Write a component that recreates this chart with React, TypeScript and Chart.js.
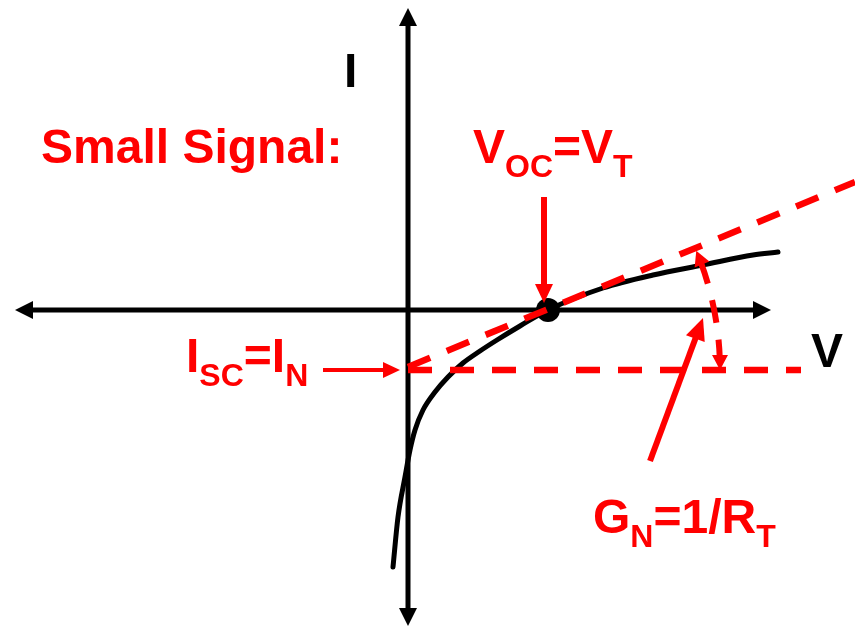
import React, { useEffect, useRef } from 'react';
import { Chart, registerables } from 'chart.js';

Chart.register(...registerables);

// ---- data (units: V horizontal, I vertical) ----
const X_RANGE = [-4.08, 4.47];
const Y_RANGE = [-3.17, 3.1];

// I–V curve of the device
const curveV = [-0.15, -0.1, -0.03, 0.02, 0.07, 0.15, 0.27, 0.4, 0.55, 0.72, 0.89, 1.12, 1.4, 1.95, 2.45, 2.95, 3.45, 3.7];
const curveI = [-2.57, -2.07, -1.67, -1.4, -1.2, -1.0, -0.82, -0.67, -0.53, -0.41, -0.3, -0.16, 0, 0.22, 0.35, 0.45, 0.55, 0.58];

// operating point V_OC
const opV = [1.4];
const opI = [0];

// small-signal tangent line and I_SC level
const tangentV = [0, 4.47];
const tangentI = [-0.57, 1.28];
const iscV = [0, 3.93];
const iscI = [-0.6, -0.6];

// axes: [v1, i1, v2, i2]
const axisH = [-3.93, 0, 3.63, 0];
const axisV = [0, -3.16, 0, 3.02];

// annotation arrows: [fromV, fromI, toV, toI]
const vocArrow = [1.36, 1.13, 1.36, 0.07];
const iscArrow = [-0.85, -0.6, -0.08, -0.6];
const gnArrow = [2.42, -1.51, 2.95, -0.08];

// slope arc: center (V, I), radius
const arcCenter = [0, -0.6];
const arcRadius = [3.12];
const arcSlope = [0.414];

// labels: [V, I] anchor (left, baseline)
const labelSmall = { text: [['Small Signal:', false]], at: [-3.67, 1.47] };
const labelVoc = { text: [['V', false], ['OC', true], ['=V', false], ['T', true]], at: [0.65, 1.47] };
const labelIsc = { text: [['I', false], ['SC', true], ['=I', false], ['N', true]], at: [-2.22, -0.62] };
const labelGn = { text: [['G', false], ['N', true], ['=1/R', false], ['T', true]], at: [1.85, -2.23] };
const labelI = { text: [['I', false]], at: [-0.64, 2.23] };
const labelV = { text: [['V', false]], at: [4.03, -0.57] };

const RED = '#ff0000';
const BLACK = '#000000';
const FONT_FAMILY = '"Liberation Sans", Arial, Helvetica, sans-serif';

const pts = (xs: number[], ys: number[]) => xs.map((x, i) => ({ x, y: ys[i] }));

function drawArrow(
  ctx: CanvasRenderingContext2D,
  x1: number, y1: number, x2: number, y2: number,
  width: number, headLen: number, headHalf: number, color: string, both = false
) {
  const dx = x2 - x1, dy = y2 - y1;
  const len = Math.hypot(dx, dy);
  const ux = dx / len, uy = dy / len;
  const sx = both ? x1 + ux * headLen * 0.8 : x1;
  const sy = both ? y1 + uy * headLen * 0.8 : y1;
  const ex = x2 - ux * headLen * 0.8, ey = y2 - uy * headLen * 0.8;
  ctx.save();
  ctx.strokeStyle = color;
  ctx.fillStyle = color;
  ctx.lineWidth = width;
  ctx.lineCap = 'butt';
  ctx.setLineDash([]);
  ctx.beginPath();
  ctx.moveTo(sx, sy);
  ctx.lineTo(ex, ey);
  ctx.stroke();
  const head = (tx: number, ty: number, vx: number, vy: number) => {
    const bx = tx - vx * headLen, by = ty - vy * headLen;
    ctx.beginPath();
    ctx.moveTo(tx, ty);
    ctx.lineTo(bx - vy * headHalf, by + vx * headHalf);
    ctx.lineTo(bx + vy * headHalf, by - vx * headHalf);
    ctx.closePath();
    ctx.fill();
  };
  head(x2, y2, ux, uy);
  if (both) head(x1, y1, -ux, -uy);
  ctx.restore();
}

function drawRich(ctx: CanvasRenderingContext2D, x: number, y: number, segs: any[], color: string) {
  ctx.save();
  ctx.fillStyle = color;
  ctx.textAlign = 'left';
  ctx.textBaseline = 'alphabetic';
  let cx = x;
  for (const [t, sub] of segs) {
    ctx.font = sub ? `bold 32px ${FONT_FAMILY}` : `bold 48px ${FONT_FAMILY}`;
    ctx.fillText(t, cx, sub ? y + 14 : y);
    cx += ctx.measureText(t).width;
  }
  ctx.restore();
}

const diagramPlugin = {
  id: 'diagram',
  beforeDatasetsDraw(chart: any) {
    const { ctx, scales } = chart;
    const px = (v: number) => scales.x.getPixelForValue(v);
    const py = (i: number) => scales.y.getPixelForValue(i);
    drawArrow(ctx, px(axisH[0]), py(axisH[1]), px(axisH[2]), py(axisH[3]), 5, 18, 9, BLACK, true);
    drawArrow(ctx, px(axisV[0]), py(axisV[1]), px(axisV[2]), py(axisV[3]), 5, 18, 9, BLACK, true);
  },
  afterDatasetsDraw(chart: any) {
    const { ctx, scales } = chart;
    const px = (v: number) => scales.x.getPixelForValue(v);
    const py = (i: number) => scales.y.getPixelForValue(i);

    // slope arc with arrowheads at both ends
    const cx = px(arcCenter[0]);
    const cy = py(arcCenter[1]);
    const r = px(arcCenter[0] + arcRadius[0]) - cx;
    const theta = Math.atan(arcSlope[0]);
    const headLen = 15, headHalf = 8;
    const d = headLen / r;
    ctx.save();
    ctx.strokeStyle = RED;
    ctx.fillStyle = RED;
    ctx.lineWidth = 6;
    ctx.setLineDash([23, 17]);
    ctx.beginPath();
    ctx.arc(cx, cy, r, -(theta - d * 0.8), -d * 0.8, false);
    ctx.stroke();
    ctx.setLineDash([]);
    const arcHead = (phi: number, dir: number) => {
      const tx = cx + r * Math.cos(phi), ty = cy - r * Math.sin(phi);
      const vx = -Math.sin(phi) * dir, vy = -Math.cos(phi) * dir;
      const bx = tx - vx * headLen, by = ty - vy * headLen;
      ctx.beginPath();
      ctx.moveTo(tx, ty);
      ctx.lineTo(bx - vy * headHalf, by + vx * headHalf);
      ctx.lineTo(bx + vy * headHalf, by - vx * headHalf);
      ctx.closePath();
      ctx.fill();
    };
    arcHead(theta, 1);
    arcHead(0, -1);
    ctx.restore();

    drawArrow(ctx, px(vocArrow[0]), py(vocArrow[1]), px(vocArrow[2]), py(vocArrow[3]), 6, 19, 9, RED);
    drawArrow(ctx, px(iscArrow[0]), py(iscArrow[1]), px(iscArrow[2]), py(iscArrow[3]), 4, 17, 8, RED);
    drawArrow(ctx, px(gnArrow[0]), py(gnArrow[1]), px(gnArrow[2]), py(gnArrow[3]), 6, 22, 10, RED);

    for (const [lab, col] of [
      [labelSmall, RED], [labelVoc, RED], [labelIsc, RED], [labelGn, RED], [labelI, BLACK], [labelV, BLACK],
    ] as any[]) {
      drawRich(ctx, px(lab.at[0]), py(lab.at[1]), lab.text, col);
    }
  },
};

export default function App() {
  const ref = useRef<HTMLCanvasElement | null>(null);
  useEffect(() => {
    if (!ref.current) return;
    const chart = new Chart(ref.current, {
      type: 'scatter',
      data: {
        datasets: [
          {
            label: 'tangent',
            data: pts(tangentV, tangentI),
            showLine: true,
            borderColor: RED,
            borderWidth: 6.5,
            borderDash: [24, 18],
            pointRadius: 0,
            order: 1,
          },
          {
            label: 'Isc level',
            data: pts(iscV, iscI),
            showLine: true,
            borderColor: RED,
            borderWidth: 6.5,
            borderDash: [24, 18],
            pointRadius: 0,
            order: 1,
          },
          {
            label: 'operating point',
            data: pts(opV, opI),
            showLine: false,
            pointRadius: 12,
            pointBackgroundColor: BLACK,
            pointBorderColor: BLACK,
            pointBorderWidth: 0,
            order: 2,
          },
          {
            label: 'I-V',
            data: pts(curveV, curveI),
            showLine: true,
            borderColor: BLACK,
            borderWidth: 5,
            borderCapStyle: 'round',
            cubicInterpolationMode: 'monotone',
            pointRadius: 0,
            order: 3,
          },
        ] as any,
      },
      options: {
        animation: false,
        responsive: false,
        events: [],
        layout: { padding: 0, autoPadding: false },
        plugins: { legend: { display: false }, tooltip: { enabled: false } },
        scales: {
          x: { type: 'linear', min: X_RANGE[0], max: X_RANGE[1], display: false },
          y: { type: 'linear', min: Y_RANGE[0], max: Y_RANGE[1], display: false },
        },
      } as any,
      plugins: [diagramPlugin],
    });
    return () => chart.destroy();
  }, []);
  return (
    <div style={{ position: 'absolute', left: 0, top: 0, width: 855, height: 627, background: '#fff' }}>
      <canvas ref={ref} width={855} height={627} />
    </div>
  );
}
